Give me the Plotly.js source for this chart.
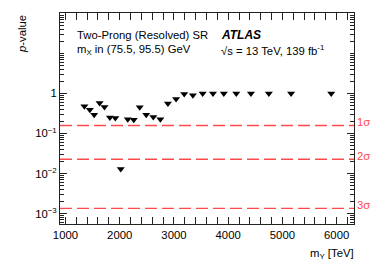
<!DOCTYPE html>
<html>
<head>
<meta charset="utf-8">
<script src="https://cdn.plot.ly/plotly-3.0.1.min.js"></script>
<style>html,body{margin:0;padding:0;background:#fff;}#chart{width:374px;height:268px;}</style>
</head>
<body>
<div id="chart"></div>
<script>
// Data
const massY = [1350, 1450, 1530, 1630, 1720, 1820, 1920, 2020, 2150, 2260, 2370, 2490, 2620, 2750, 2890, 3040, 3190, 3350, 3530, 3720, 3920, 4150, 4420, 4750, 5160, 5900];
const pValue = [0.48, 0.39, 0.295, 0.58, 0.46, 0.25, 0.245, 0.013, 0.226, 0.22, 0.45, 0.295, 0.26, 0.227, 0.56, 0.73, 0.97, 0.90, 1.0, 1.0, 1.0, 1.0, 1.0, 1.0, 1.0, 1.0];
const sigmaLabels = ['1σ', '2σ', '3σ'];
const sigmaP = [0.1587, 0.02275, 0.00135];
const yTickVals = [0.001, 0.01, 0.1, 1];
const yTickText = ['10<sup>−3</sup>', '10<sup>−2</sup>', '10<sup>−1</sup>', '1'];
const xRange = [900, 6320];
const yLogRange = [-3.26, 2.01];

const FONT = 'Liberation Sans, Arial, Helvetica, sans-serif';
const red = '#ff4a4a';

// short tick positions for the log axis (1..9 in each decade)
const yAllTicks = [];
for (let e = -4; e <= 2; e++) {
  for (let k = 1; k <= 9; k++) yAllTicks.push(k * Math.pow(10, e));
}

const traces = [];
sigmaP.forEach((p) => {
  traces.push({
    x: xRange, y: [p, p], mode: 'lines', type: 'scatter',
    line: {color: red, width: 1.3, dash: '12px,5px'},
    hoverinfo: 'skip', showlegend: false
  });
});
traces.push({
  x: massY, y: pValue, mode: 'markers', type: 'scatter',
  marker: {symbol: 'triangle-down', size: 7, color: '#000'},
  showlegend: false
});
// invisible trace bound to the short-tick axis
traces.push({x: [massY[0]], y: [pValue[0]], xaxis: 'x', yaxis: 'y2', type: 'scatter', mode: 'markers', marker: {opacity: 0}, showlegend: false, hoverinfo: 'skip'});

const annotations = [
  {text: 'Two-Prong (Resolved) SR', xref: 'paper', yref: 'paper', x: 0.051, y: 0.896, xanchor: 'left', yanchor: 'middle', showarrow: false, font: {family: FONT, size: 11.3, color: '#000'}},
  {text: 'm<sub>X</sub> in (75.5, 95.5) GeV', xref: 'paper', yref: 'paper', x: 0.051, y: 0.825, xanchor: 'left', yanchor: 'middle', showarrow: false, font: {family: FONT, size: 11.3, color: '#000'}},
  {text: '<b><i>ATLAS</i></b>', xref: 'paper', yref: 'paper', x: 0.541, y: 0.896, xanchor: 'left', yanchor: 'middle', showarrow: false, font: {family: FONT, size: 12, color: '#000'}},
  {text: '√s = 13 TeV, 139 fb<sup>-1</sup>', xref: 'paper', yref: 'paper', x: 0.541, y: 0.825, xanchor: 'left', yanchor: 'middle', showarrow: false, font: {family: FONT, size: 11.3, color: '#000'}},
  {text: '<i>p</i>-value', xref: 'paper', yref: 'paper', x: -0.129, y: 1.0, xanchor: 'center', yanchor: 'top', textangle: -90, showarrow: false, font: {family: FONT, size: 11.3, color: '#000'}},
  {text: 'm<sub>Y</sub> [TeV]', xref: 'paper', yref: 'paper', x: 1.007, y: -0.142, xanchor: 'right', yanchor: 'middle', showarrow: false, font: {family: FONT, size: 11.3, color: '#000'}}
];
sigmaP.forEach((p, i) => {
  annotations.push({text: sigmaLabels[i], xref: 'paper', yref: 'y', x: 1.005, y: Math.log10(p), xanchor: 'left', yanchor: 'middle', yshift: 3, showarrow: false, font: {family: FONT, size: 11.3, color: red}});
});

const axisCommon = {
  showgrid: false, zeroline: false, showline: true, linecolor: '#222', linewidth: 1,
  mirror: 'allticks', ticks: 'inside', ticklen: 7, tickcolor: '#222', tickwidth: 1,
  tickfont: {family: FONT, size: 11.3, color: '#000'}
};

const layout = {
  width: 374, height: 268,
  margin: {l: 60, r: 20, t: 13, b: 44},
  paper_bgcolor: '#fff', plot_bgcolor: '#fff',
  showlegend: false,
  xaxis: Object.assign({}, axisCommon, {
    range: xRange, tick0: 1000, dtick: 1000,
    minor: {ticks: 'inside', ticklen: 4, dtick: 200, tickcolor: '#222', showgrid: false}
  }),
  yaxis: Object.assign({}, axisCommon, {
    type: 'log', range: yLogRange,
    tickmode: 'array', tickvals: yTickVals, ticktext: yTickText
  }),
  yaxis2: {
    type: 'log', range: yLogRange, overlaying: 'y', side: 'left', anchor: 'x',
    tickmode: 'array', tickvals: yAllTicks, showticklabels: false,
    ticks: 'inside', ticklen: 4, tickcolor: '#222', tickwidth: 1,
    mirror: 'allticks', showline: false, showgrid: false, zeroline: false
  },
  annotations: annotations
};

Plotly.newPlot('chart', traces, layout, {staticPlot: true, displayModeBar: false});
</script>
</body>
</html>
